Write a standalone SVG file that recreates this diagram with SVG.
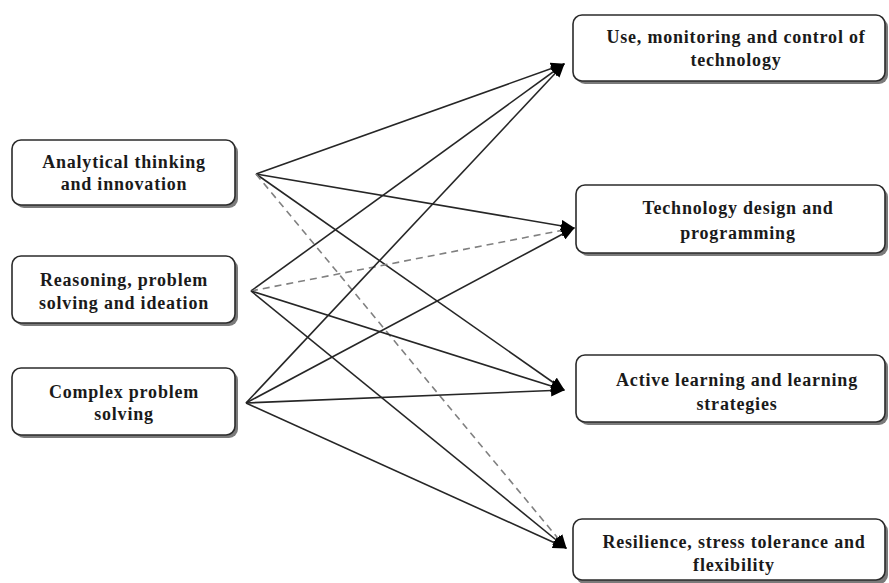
<svg xmlns="http://www.w3.org/2000/svg" width="889" height="583" viewBox="0 0 889 583">
  <style>
    .box { fill: #ffffff; stroke: #2b2b2b; stroke-width: 1.6; }
    .shadow { fill: #7a7a7a; }
    .label { font-family: "Liberation Serif", "Times New Roman", serif; font-weight: bold; font-size: 18px; letter-spacing: 0.8px; fill: #1a1a1a; text-anchor: middle; }
    .edge { fill: none; stroke: #262626; stroke-width: 1.6; }
    .edge.dashed { stroke: #808080; stroke-dasharray: 7 5; }
  </style>
  <defs>
    <marker id="arrow" markerWidth="14" markerHeight="12" refX="13" refY="6" orient="auto" markerUnits="userSpaceOnUse">
      <path d="M0,0 L14,6 L0,12 Z" fill="#000000"/>
    </marker>
  </defs>
  <rect width="889" height="583" fill="#ffffff"/>

  <!-- skills on the left -->
  <g id="analytical">
    <rect class="shadow" x="15" y="143" width="223" height="65" rx="9"/>
    <rect class="box" x="12" y="140" width="223" height="65" rx="9"/>
    <text class="label" x="124" y="168">Analytical thinking</text>
    <text class="label" x="124" y="190">and innovation</text>
  </g>
  <g id="reasoning">
    <rect class="shadow" x="15" y="259" width="223" height="67" rx="9"/>
    <rect class="box" x="12" y="256" width="223" height="67" rx="9"/>
    <text class="label" x="124" y="286">Reasoning, problem</text>
    <text class="label" x="124" y="309">solving and ideation</text>
  </g>
  <g id="complex">
    <rect class="shadow" x="15" y="371" width="223" height="67" rx="9"/>
    <rect class="box" x="12" y="368" width="223" height="67" rx="9"/>
    <text class="label" x="124" y="398">Complex problem</text>
    <text class="label" x="124" y="420">solving</text>
  </g>

  <!-- skills on the right -->
  <g id="use-monitoring">
    <rect class="shadow" x="576" y="18" width="312" height="66" rx="9"/>
    <rect class="box" x="573" y="15" width="312" height="66" rx="9"/>
    <text class="label" x="736" y="43">Use, monitoring and control of</text>
    <text class="label" x="736" y="66">technology</text>
  </g>
  <g id="tech-design">
    <rect class="shadow" x="579" y="188" width="309" height="68" rx="9"/>
    <rect class="box" x="576" y="185" width="309" height="68" rx="9"/>
    <text class="label" x="738" y="214">Technology design and</text>
    <text class="label" x="738" y="239">programming</text>
  </g>
  <g id="active-learning">
    <rect class="shadow" x="579" y="358" width="309" height="67" rx="9"/>
    <rect class="box" x="576" y="355" width="309" height="67" rx="9"/>
    <text class="label" x="737" y="386">Active learning and learning</text>
    <text class="label" x="737" y="410">strategies</text>
  </g>
  <g id="resilience">
    <rect class="shadow" x="576" y="522" width="312" height="62" rx="9"/>
    <rect class="box" x="573" y="519" width="312" height="61" rx="9"/>
    <text class="label" x="734" y="548">Resilience, stress tolerance and</text>
    <text class="label" x="734" y="571">flexibility</text>
  </g>

  <!-- connectors -->
  <g id="connectors">
    <line class="edge" x1="256" y1="174" x2="564" y2="64" marker-end="url(#arrow)"/>
    <line class="edge" x1="256" y1="174" x2="574" y2="228" marker-end="url(#arrow)"/>
    <line class="edge" x1="256" y1="174" x2="564" y2="390" marker-end="url(#arrow)"/>
    <line class="edge dashed" x1="256" y1="174" x2="566" y2="548" marker-end="url(#arrow)"/>

    <line class="edge" x1="251" y1="291" x2="564" y2="64" marker-end="url(#arrow)"/>
    <line class="edge dashed" x1="251" y1="291" x2="574" y2="228" marker-end="url(#arrow)"/>
    <line class="edge" x1="251" y1="291" x2="564" y2="390" marker-end="url(#arrow)"/>
    <line class="edge" x1="251" y1="291" x2="566" y2="548" marker-end="url(#arrow)"/>

    <line class="edge" x1="246" y1="403" x2="564" y2="64" marker-end="url(#arrow)"/>
    <line class="edge" x1="246" y1="403" x2="574" y2="228" marker-end="url(#arrow)"/>
    <line class="edge" x1="246" y1="403" x2="564" y2="390" marker-end="url(#arrow)"/>
    <line class="edge" x1="246" y1="403" x2="566" y2="548" marker-end="url(#arrow)"/>
  </g>
</svg>
